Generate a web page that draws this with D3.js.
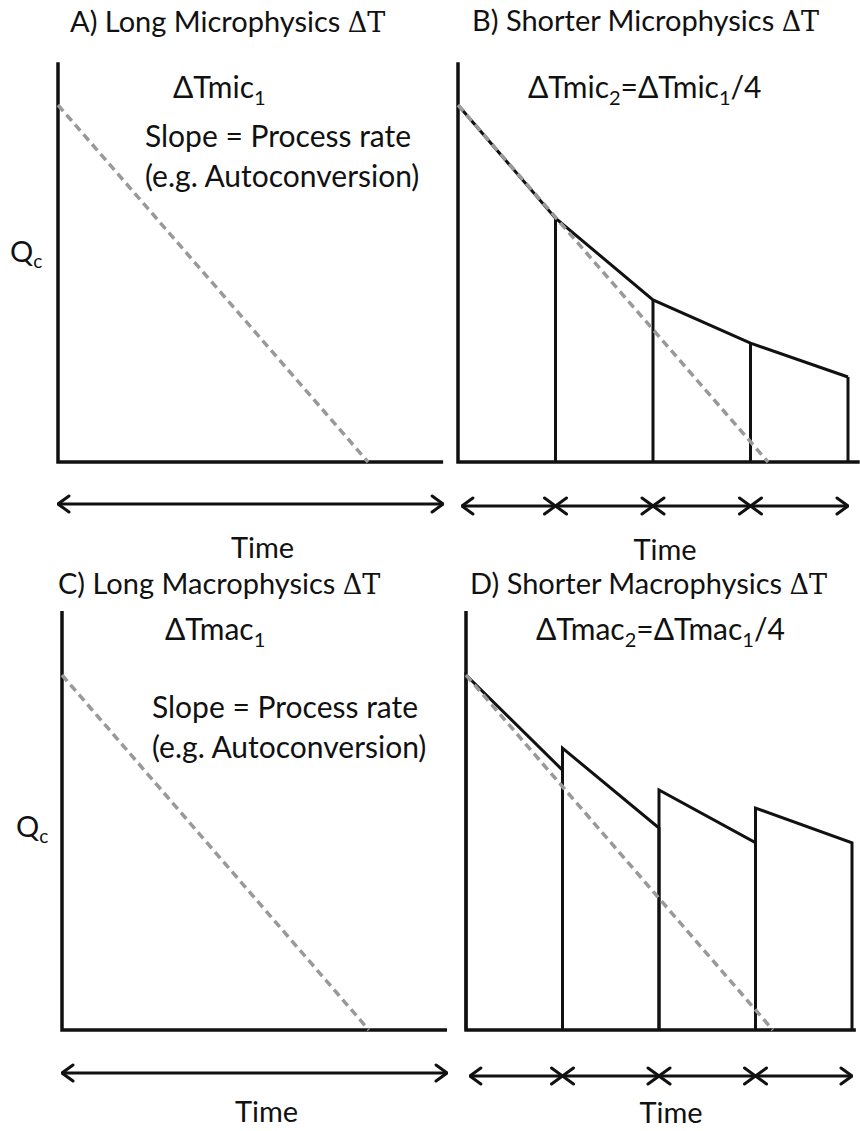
<!DOCTYPE html>
<html><head><meta charset="utf-8">
<script src="https://cdn.jsdelivr.net/npm/d3@7"></script>
<style>body{margin:0;background:#fff}text{font-family:Lato,"Open Sans",sans-serif;fill:#111}</style>
</head><body>
<script>
// time in steps of the short timestep, Q normalised to the start value
const dashedEnd = 3.18;
const steps = [0, 1, 2, 3, 4];
const micQ = [1, 0.683, 0.454, 0.333, 0.238];
const macStart = [1, 0.794, 0.676, 0.625];
const macEnd = [0.732, 0.569, 0.528, 0.527];

const panels = [
  {id: "A", title: "A) Long Microphysics ", tx: 70, ty: 32, x: [58, 448], y: [462, 105], xMax: 3.95, yTop: 1.12,
   label: ["ΔTmic", "1", ""], lx: 173, ly: 98, slope: [145, 147, 187], qx: 10, qc: 262, timeY: 558, arrowY: 504, arrows: [0, 3.95], kind: "long"},
  {id: "B", title: "B) Shorter Microphysics ", tx: 472, ty: 31, x: [458, 848], y: [462, 105], xMax: 4.12, yTop: 1.12,
   label: ["ΔTmic", "2", "=ΔTmic", "1", "/4"], lx: 528, ly: 98, timeY: 560, arrowY: 506, arrows: [0.04, 1, 2, 3, 4], kind: "mic"},
  {id: "C", title: "C) Long Macrophysics ", tx: 58, ty: 594, x: [62, 448], y: [1030, 675], xMax: 3.99, yTop: 1.18,
   label: ["ΔTmac", "1", ""], lx: 165, ly: 640, slope: [152, 718, 758], qx: 16, qc: 837, timeY: 1122, arrowY: 1073, arrows: [0, 3.99], kind: "long"},
  {id: "D", title: "D) Shorter Macrophysics ", tx: 470, ty: 594, x: [466, 852], y: [1030, 675], xMax: 4.04, yTop: 1.18,
   label: ["ΔTmac", "2", "=ΔTmac", "1", "/4"], lx: 536, ly: 640, timeY: 1123, arrowY: 1076, arrows: [0.04, 1, 2, 3, 4], kind: "mac"}
];

const svg = d3.select("body").append("svg").attr("width", 860).attr("height", 1131);
const defs = svg.append("defs");
["end", "start"].forEach(k => {
  defs.append("marker").attr("id", "arr-" + k).attr("viewBox", "0 0 14 20")
    .attr("refX", 13).attr("refY", 10).attr("markerWidth", 14).attr("markerHeight", 20)
    .attr("markerUnits", "userSpaceOnUse").attr("orient", k == "end" ? "auto" : "auto-start-reverse")
    .append("path").attr("d", "M2,2 L13,10 L2,18").attr("fill", "none").attr("stroke", "#111")
    .attr("stroke-width", 3).attr("stroke-linecap", "round");
});

panels.forEach(p => {
  const x = d3.scaleLinear().domain([0, 4]).range(p.x);
  const y = d3.scaleLinear().domain([0, 1]).range(p.y);
  const g = svg.append("g");
  const line = d3.line().x(d => x(d[0])).y(d => y(d[1]));

  const t = g.append("text").attr("x", p.tx).attr("y", p.ty).attr("font-size", 29);
  t.append("tspan").text(p.title);
  t.append("tspan").attr("style", "font-family:'DejaVu Serif',serif").attr("font-size", 27).text("ΔT");

  const lab = g.append("text").attr("x", p.lx).attr("y", p.ly).attr("font-size", 30);
  p.label.forEach((s, i) => lab.append("tspan").attr("font-size", i % 2 ? 20 : 30)
    .attr("dy", i % 2 ? 7 : (i ? -7 : 0)).text(s));

  // axes
  g.append("path").attr("d", line([[0, p.yTop], [0, 0], [p.xMax, 0]]))
    .attr("fill", "none").attr("stroke", "#111").attr("stroke-width", 3.5);

  if (p.kind == "long") {
    g.append("text").attr("x", p.slope[0]).attr("y", p.slope[1]).attr("font-size", 30).text("Slope = Process rate");
    g.append("text").attr("x", p.slope[0]).attr("y", p.slope[2]).attr("font-size", 30).text("(e.g. Autoconversion)");
    const q = g.append("text").attr("x", p.qx).attr("y", p.qc).attr("font-size", 29);
    q.append("tspan").text("Q");
    q.append("tspan").attr("font-size", 19).attr("dy", 6).text("c");
  }
  if (p.kind == "mic") {
    g.append("path").attr("d", line(steps.map((s, i) => [s, micQ[i]])))
      .attr("fill", "none").attr("stroke", "#111").attr("stroke-width", 3);
    steps.slice(1).forEach((s, i) => g.append("path").attr("d", line([[s, 0], [s, micQ[i + 1]]]))
      .attr("stroke", "#111").attr("stroke-width", 3));
  }
  if (p.kind == "mac") {
    macStart.forEach((q0, i) => {
      g.append("path").attr("d", line([[i, 0], [i, q0], [i + 1, macEnd[i]], [i + 1, 0]]))
        .attr("fill", "none").attr("stroke", "#111").attr("stroke-width", 3);
    });
  }

  // dashed reference rate
  g.append("path").attr("d", line([[0, 1], [dashedEnd, 0]]))
    .attr("stroke", "#999").attr("stroke-width", 3.5).attr("stroke-dasharray", "8,5");

  // time arrows
  for (let i = 0; i < p.arrows.length - 1; i++) {
    g.append("path").attr("d", `M${x(p.arrows[i])},${p.arrowY}L${x(p.arrows[i + 1])},${p.arrowY}`)
      .attr("stroke", "#111").attr("stroke-width", 3)
      .attr("marker-start", "url(#arr-start)").attr("marker-end", "url(#arr-end)");
  }
  g.append("text").attr("x", (x(0) + x(p.arrows[p.arrows.length - 1])) / 2 + 12).attr("y", p.timeY)
    .attr("text-anchor", "middle").attr("font-size", 29).text("Time");
});
</script>
</body></html>
